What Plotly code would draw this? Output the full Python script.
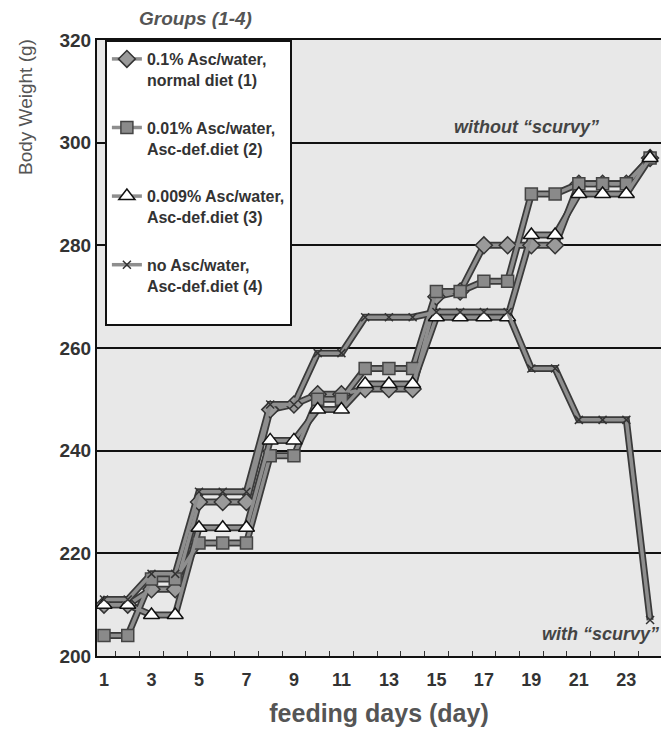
import plotly.graph_objects as go

days = list(range(1, 25))
g1 = [210, 210, 213, 213, 230, 230, 230, 248, 249, 251, 251, 252, 252, 252, 270, 271, 280, 280, 280, 280, 292, 292, 292, 297]
g2 = [204, 204, 215, 215, 222, 222, 222, 239, 239, 250, 250, 256, 256, 256, 271, 271, 273, 273, 290, 290, 292, 292, 292, 297]
g3 = [210, 210, 208, 208, 225, 225, 225, 242, 242, 248, 248, 253, 253, 253, 266, 266, 266, 266, 282, 282, 290, 290, 290, 297]
g4 = [211, 211, 216, 216, 232, 232, 232, 249, 249, 259, 259, 266, 266, 266, 267, 267, 267, 267, 256, 256, 246, 246, 246, 207]
names = ["0.1% Asc/water,<br>normal diet (1)", "0.01% Asc/water,<br>Asc-def.diet (2)",
         "0.009% Asc/water,<br>Asc-def.diet (3)", "no Asc/water,<br>Asc-def.diet (4)<br> "]
yticks = [200, 220, 240, 260, 280, 300, 320]
xticks = [1, 3, 5, 7, 9, 11, 13, 15, 17, 19, 21, 23]

series = [g1, g2, g3, g4]
markers = [
    dict(symbol="diamond", size=13, color="#9a9a9a", line=dict(color="#333", width=1.5)),
    dict(symbol="square", size=12, color="#8a8a8a", line=dict(color="#444", width=1.5)),
    dict(symbol="triangle-up", size=14, color="white", line=dict(color="#111", width=1.5)),
    dict(symbol="x-thin", size=8, color="#333", line=dict(color="#333", width=1.5)),
]

fig = go.Figure()
for s in series:
    fig.add_trace(go.Scatter(x=days, y=s, mode="lines", line=dict(color="#3a3a3a", width=7),
                             showlegend=False, hoverinfo="skip"))
for i, s in enumerate(series):
    fig.add_trace(go.Scatter(x=days, y=s, mode="lines+markers", name=names[i],
                             line=dict(color="#8e8e8e", width=3.5), marker=markers[i],
                             legendgroup=f"g{i}"))

font = "Liberation Sans, Arial, sans-serif"
fig.update_layout(
    width=661, height=740,
    margin=dict(l=97, r=0, t=40, b=84),
    paper_bgcolor="white", plot_bgcolor="#e8e8e8",
    font=dict(family=font),
    showlegend=True,
    legend=dict(x=0.014, y=1.0, xanchor="left", yanchor="top", bgcolor="white",
                bordercolor="#111", borderwidth=2, font=dict(size=16, color="#333", weight="bold"),
                traceorder="grouped", tracegroupgap=24, valign="top", itemwidth=30),
    xaxis=dict(range=[0.705, 24.46], tickvals=xticks, ticks="", showgrid=False,
               tickfont=dict(size=18, color="#333", weight="bold"), ticklabelstandoff=6,
               showline=True, linecolor="#111", linewidth=2, mirror=True,
               minor=dict(tickvals=[d + 0.5 for d in range(1, 24)], ticks="inside", ticklen=5,
                          tickcolor="#333", showgrid=False),
               title=dict(text="feeding days (day)", font=dict(size=25, color="#555", weight="bold"),
                          standoff=16), zeroline=False),
    yaxis=dict(range=[200, 320], tickvals=yticks, ticks="", showgrid=True, gridcolor="#111", gridwidth=2,
               tickfont=dict(size=19, color="#333", weight="bold"),
               showline=True, linecolor="#111", linewidth=2, zeroline=False),
    annotations=[
        dict(text="<i>Groups (1-4)</i>", xref="paper", yref="paper", x=(195 - 97) / 564, xanchor="center",
             y=1.0, yanchor="middle", yshift=22, showarrow=False,
             font=dict(size=19, color="#555", weight="bold")),
        dict(text="Body Weight (g)", xref="paper", yref="paper", x=-(97 - 26) / 564, xanchor="center",
             y=1 - (107 - 40) / 616, yanchor="middle",
             textangle=-90, showarrow=False, font=dict(size=19, color="#555")),
        dict(text="<i>without “scurvy”</i>", xref="paper", yref="paper", x=(526 - 97) / 564, xanchor="center",
             y=1 - (127 - 40) / 616, yanchor="middle", showarrow=False,
             font=dict(size=18, color="#444", weight="bold")),
        dict(text="<i>with “scurvy”</i>", xref="paper", yref="paper", x=1.0, xanchor="right",
             y=1 - (634 - 40) / 616, yanchor="middle", showarrow=False,
             font=dict(size=18, color="#444", weight="bold")),
    ],
)
fig.write_html("out.html")
